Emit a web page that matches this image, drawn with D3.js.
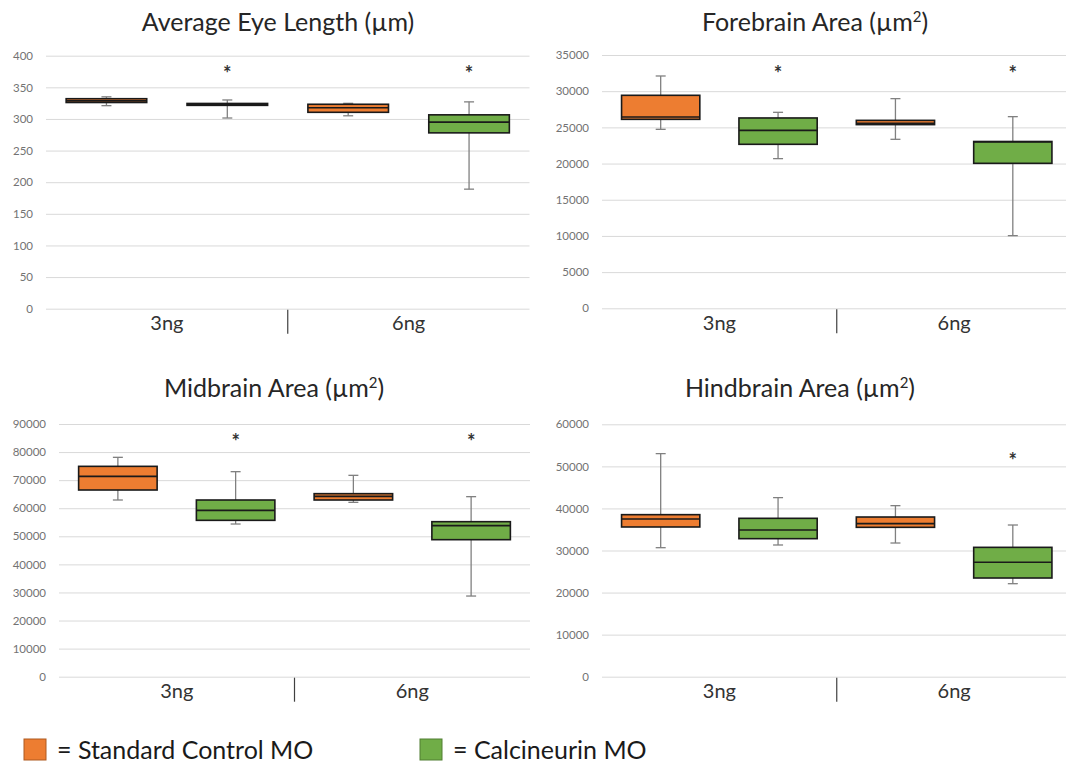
<!DOCTYPE html>
<html>
<head>
<meta charset="utf-8">
<script src="https://cdn.jsdelivr.net/npm/d3@7"></script>
<style>
  body { margin: 0; background: #fff; }
  text { font-family: Lato, "Open Sans", sans-serif; }
</style>
</head>
<body>
<div id="container"></div>
<script>
const categories = ["3ng", "6ng"];
const groups = ["Standard Control MO", "Calcineurin MO"];
const colors = ["#ED7D31", "#70AD47"];

// box stats: [min, q1, median, q3, max]
// order: control 3ng, calcineurin 3ng, control 6ng, calcineurin 6ng
const eyeBoxes = [
  [321, 326, 328.5, 332, 335],
  [301.5, 321.5, 323, 324.5, 330],
  [305, 310.5, 317.8, 323.2, 324.7],
  [189, 278, 295, 306.5, 327]
];
const foreBoxes = [
  [24730, 26110, 26430, 29430, 32100],
  [20680, 22660, 24590, 26300, 27080],
  [23350, 25380, 25560, 25970, 28970],
  [10040, 20030, 23000, 23050, 26480]
];
const midBoxes = [
  [62930, 66490, 71360, 74920, 78130],
  [54380, 55690, 59250, 62930, 73020],
  [62100, 62930, 64240, 65190, 71720],
  [28730, 48800, 53790, 55210, 64120]
];
const hindBoxes = [
  [30670, 35590, 37490, 38520, 53030],
  [31310, 32810, 34870, 37650, 42570],
  [31780, 35510, 36380, 37960, 40660],
  [22110, 23460, 27190, 30750, 36060]
];

// significance stars (value where the * sits, null = none)
const eyeStars = [null, 377, null, 377];
const foreStars = [null, 32930, null, 32930];
const midStars = [null, 84900, null, 84900];
const hindStars = [null, null, null, 52300];

const eyeTicks = d3.range(0, 401, 50);
const foreTicks = d3.range(0, 35001, 5000);
const midTicks = d3.range(0, 90001, 10000);
const hindTicks = d3.range(0, 60001, 10000);

let w = 1066;
let h = 763;

let svg = d3.select("#container").append("svg")
    .attr("width", w)
    .attr("height", h)
    .style("display", "block");

const panels = [
  {title: "Average Eye Length (µm)", sup: false, boxes: eyeBoxes, stars: eyeStars, ticks: eyeTicks,
   x: [46, 529.5], y: [308.7, 55.7], labelX: 33, titleX: 278, titleY: 31},
  {title: "Forebrain Area (µm", sup: true, boxes: foreBoxes, stars: foreStars, ticks: foreTicks,
   x: [602, 1071.5], y: [308.3, 55], labelX: 589, titleX: 815, titleY: 31},
  {title: "Midbrain Area (µm", sup: true, boxes: midBoxes, stars: midStars, ticks: midTicks,
   x: [59, 530], y: [676.7, 424], labelX: 46, titleX: 274, titleY: 397},
  {title: "Hindbrain Area (µm", sup: true, boxes: hindBoxes, stars: hindStars, ticks: hindTicks,
   x: [602, 1071.5], y: [676.7, 424.3], labelX: 589, titleX: 800, titleY: 397}
];

panels.forEach(drawPanel);

function drawPanel(p) {
  let g = svg.append("g");
  let x = d3.scaleBand().domain(categories).range(p.x);
  let xg = d3.scalePoint().domain(groups).range([0, x.bandwidth()]).padding(0.5);
  let boxW = x.bandwidth() / 3;
  let y = d3.scaleLinear().domain([0, d3.max(p.ticks)]).range(p.y);
  let bottom = p.y[0];

  // y axis + gridlines
  let yAxis = g.append("g")
      .attr("transform", "translate(" + p.x[0] + ",0)")
      .call(d3.axisLeft(y).tickValues(p.ticks).tickSize(-(p.x[1] - p.x[0]))
        .tickPadding(p.x[0] - p.labelX).tickFormat(d3.format("d")));
  yAxis.select(".domain").remove();
  yAxis.selectAll(".tick line").attr("stroke", "#d9d9d9").attr("stroke-width", 1);
  yAxis.selectAll(".tick text").attr("fill", "#737373").style("font-size", "11.5px");

  // category labels
  let xAxis = g.append("g")
      .attr("transform", "translate(0," + bottom + ")")
      .call(d3.axisBottom(x).tickSize(0).tickPadding(7.5));
  xAxis.select(".domain").remove();
  xAxis.selectAll(".tick text").attr("fill", "#333").style("font-size", "20px");

  // divider between categories
  g.append("line")
      .attr("x1", x(categories[1])).attr("x2", x(categories[1]))
      .attr("y1", bottom + 1).attr("y2", bottom + 25)
      .attr("stroke", "#404040").attr("stroke-width", 1.2);

  let rows = p.boxes.map(function(b, i) {
    return {cat: categories[Math.floor(i / 2)], grp: groups[i % 2], gi: i % 2, s: b, star: p.stars[i]};
  });
  let cx = d => x(d.cat) + xg(d.grp);

  let box = g.selectAll(".box").data(rows).enter().append("g").attr("class", "box");

  // whiskers
  box.append("line")
      .attr("x1", cx).attr("x2", cx)
      .attr("y1", d => y(d.s[4])).attr("y2", d => y(d.s[3]))
      .attr("stroke", "#808080").attr("stroke-width", 1.3);
  box.append("line")
      .attr("x1", cx).attr("x2", cx)
      .attr("y1", d => y(d.s[1])).attr("y2", d => y(d.s[0]))
      .attr("stroke", "#808080").attr("stroke-width", 1.3);
  [0, 4].forEach(function(k) {
    box.append("line")
        .attr("x1", d => cx(d) - 5).attr("x2", d => cx(d) + 5)
        .attr("y1", d => y(d.s[k])).attr("y2", d => y(d.s[k]))
        .attr("stroke", "#808080").attr("stroke-width", 1.3);
  });

  // boxes
  box.append("rect")
      .attr("x", d => cx(d) - boxW / 2)
      .attr("width", boxW)
      .attr("y", d => y(d.s[3]))
      .attr("height", d => y(d.s[1]) - y(d.s[3]))
      .attr("fill", d => colors[d.gi])
      .attr("stroke", "#1a1a1a")
      .attr("stroke-width", 1.6);

  // medians
  box.append("line")
      .attr("x1", d => cx(d) - boxW / 2).attr("x2", d => cx(d) + boxW / 2)
      .attr("y1", d => y(d.s[2])).attr("y2", d => y(d.s[2]))
      .attr("stroke", "#1a1a1a").attr("stroke-width", 1.6);

  // stars
  box.filter(d => d.star != null).append("text")
      .attr("x", cx)
      .attr("y", d => y(d.star) + 11)
      .attr("text-anchor", "middle")
      .attr("fill", "#333")
      .style("font-size", "20px")
      .style("font-weight", "bold")
      .text("*");

  // title
  let t = svg.append("text")
      .attr("x", p.titleX)
      .attr("y", p.titleY)
      .attr("text-anchor", "middle")
      .attr("fill", "#262626")
      .style("font-size", "25px")
      .text(p.title);
  if (p.sup) {
    t.append("tspan").attr("dy", -9).style("font-size", "15px").text("2");
    t.append("tspan").attr("dy", 9).text(")");
  }
}

// legend
let legend = svg.append("g");
let legX = [24, 420];
groups.forEach(function(name, i) {
  legend.append("rect")
      .attr("x", legX[i]).attr("y", 739)
      .attr("width", 22).attr("height", 21)
      .attr("fill", colors[i])
      .attr("stroke", i == 0 ? "#ae5a21" : "#507e32")
      .attr("stroke-width", 1);
  legend.append("text")
      .attr("x", legX[i] + 33).attr("y", 759)
      .attr("fill", "#1a1a1a")
      .style("font-size", "25px")
      .text("= " + name);
});
</script>
</body>
</html>
